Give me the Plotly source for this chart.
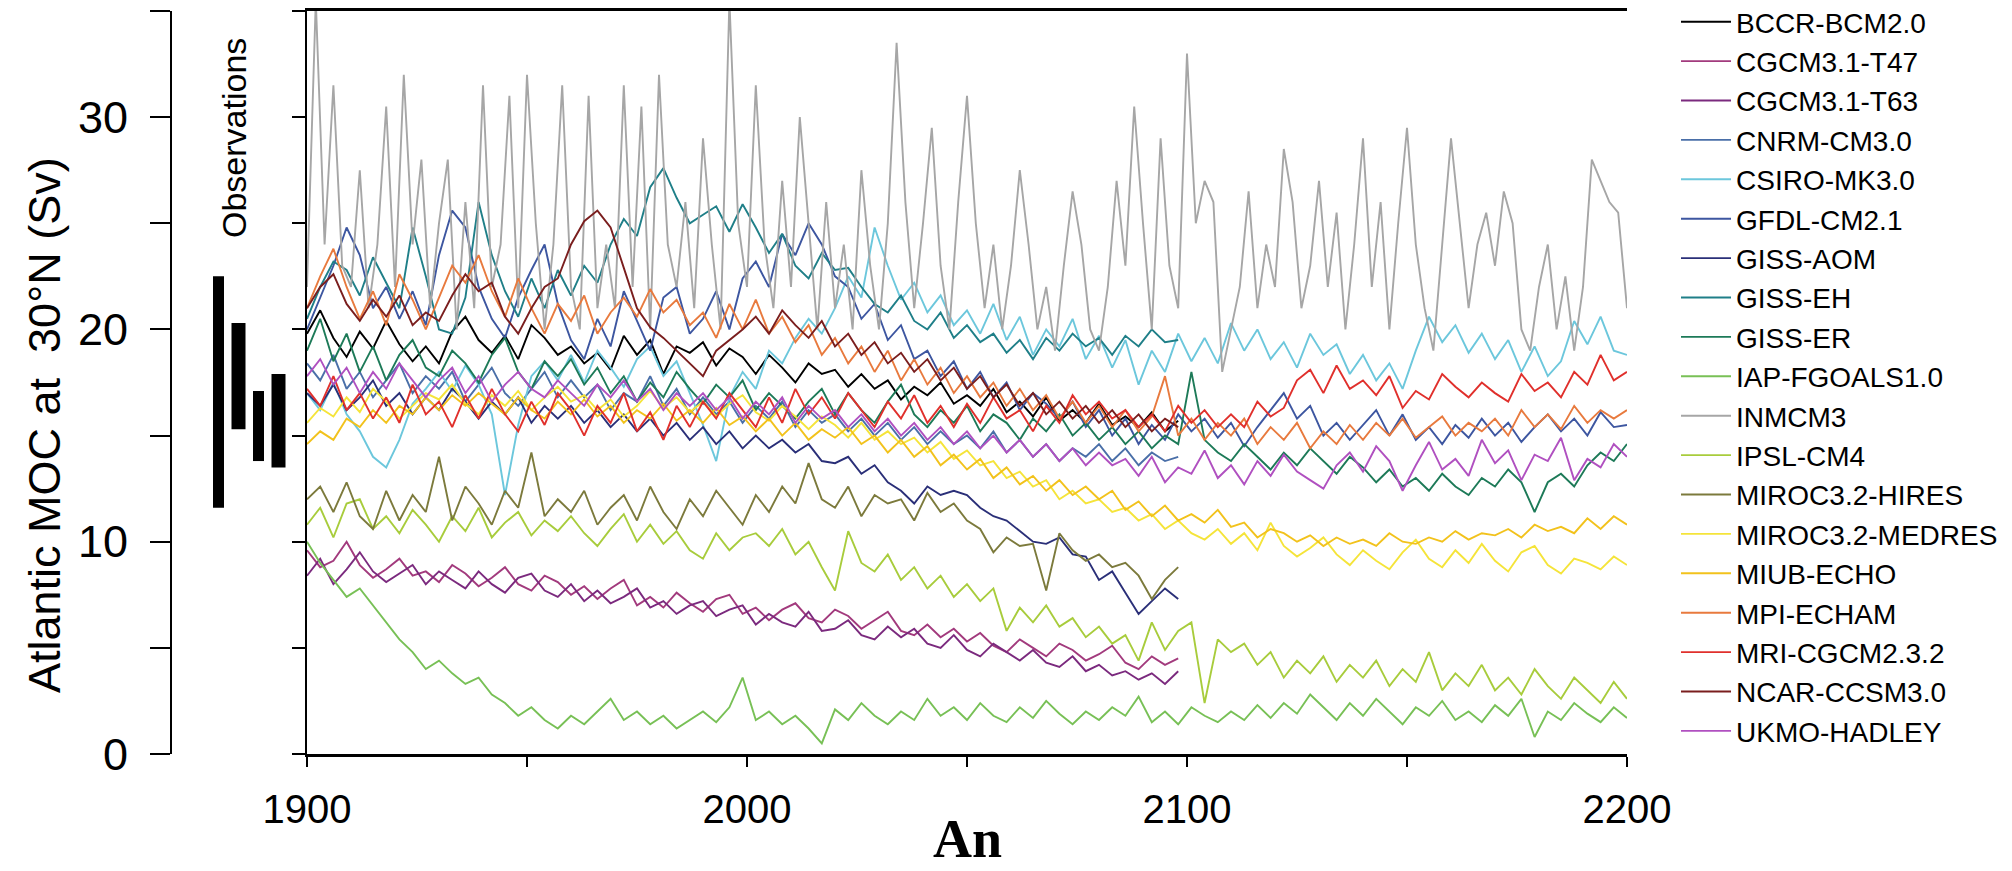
import plotly.graph_objects as go

# ---------------- data ----------------
MODELS = ["BCCR-BCM2.0", "CGCM3.1-T47", "CGCM3.1-T63", "CNRM-CM3.0", "CSIRO-MK3.0",
          "GFDL-CM2.1", "GISS-AOM", "GISS-EH", "GISS-ER", "IAP-FGOALS1.0", "INMCM3",
          "IPSL-CM4", "MIROC3.2-HIRES", "MIROC3.2-MEDRES", "MIUB-ECHO", "MPI-ECHAM",
          "MRI-CGCM2.3.2", "NCAR-CCSM3.0", "UKMO-HADLEY"]

COLORS = ["#000000", "#a23a7d", "#7b2a7e", "#4a6fa8", "#6cc7dc", "#3d56a0", "#2a2f78",
          "#1f7f88", "#1d7a58", "#78c056", "#a6a6a6", "#a8cc3c", "#7c7a3c", "#f5e43a",
          "#f2c21c", "#e87a3e", "#e0302c", "#7a1e1e", "#b050c0"]

YEARS_2200 = list(range(1900, 2201, 3))   # 101 years
YEARS_2100 = list(range(1900, 2099, 3))   # 67 years
YEARS_INM = list(range(1900, 2201, 2))    # 151 years

BCCR = [19.8, 20.9, 19.6, 18.7, 19.9, 19.1, 20.4, 19.3, 18.5, 19.2,
        18.4, 19.9, 20.6, 19.5, 18.9, 19.7, 18.6, 20.2, 19.6, 18.8,
        19.2, 18.4, 18.9, 18.1, 19.7, 18.8, 19.5, 17.9, 19.2, 18.9,
        19.4, 18.3, 19.1, 18.7, 17.9, 18.8, 18.2, 17.5, 18.4, 17.9,
        18.1, 17.3, 17.9, 17.2, 17.6, 16.7, 17.3, 16.9, 17.5, 16.5,
        16.9, 16.4, 17.2, 16.1, 16.6, 15.9, 16.8, 15.7, 16.2, 15.6,
        16.5, 15.5, 15.9, 15.4, 16.1, 15.2, 15.7]
CGCM_T47 = [9.6, 8.8, 9.1, 10.0, 8.9, 8.3, 8.7, 9.2, 8.4, 8.6,
            8.1, 8.9, 8.5, 7.9, 8.3, 8.8, 8.0, 7.7, 8.4, 8.1,
            7.5, 7.9, 7.3, 7.8, 8.2, 7.0, 7.4, 6.9, 7.6, 7.1,
            6.7, 7.3, 7.5, 6.6, 6.9, 6.3, 6.8, 7.1, 6.4, 6.2,
            6.8, 6.5, 5.9, 6.3, 6.7, 5.8, 5.6, 6.1, 5.5, 5.9,
            5.3, 5.7, 5.1, 4.8, 5.4, 5.0, 4.6, 5.2, 4.9, 4.4,
            4.7, 5.1, 4.3, 4.0, 4.6, 4.2, 4.5]
CGCM_T63 = [8.4, 9.2, 8.0, 8.7, 9.5, 8.6, 8.1, 8.5, 8.9, 8.0,
            8.6, 8.2, 7.8, 8.6, 8.0, 7.6, 8.3, 8.5, 7.7, 7.4,
            8.0, 7.2, 7.7, 7.1, 7.4, 7.8, 6.9, 7.2, 6.6, 7.0,
            7.2, 6.5, 6.8, 7.0, 6.1, 6.6, 6.2, 6.0, 6.7, 5.8,
            5.9, 6.3, 5.6, 5.4, 6.0, 5.5, 5.9, 5.2, 5.0, 5.6,
            4.9, 4.6, 5.2, 4.8, 4.4, 4.9, 4.3, 4.1, 4.6, 3.9,
            4.2, 3.7, 3.9, 3.5, 3.8, 3.3, 3.9]
CNRM = [18.4, 17.6, 18.8, 17.2, 18.0, 16.8, 17.6, 18.4, 17.0, 17.8,
        17.2, 18.0, 16.6, 17.4, 18.2, 17.0, 16.4, 17.2, 18.0, 16.8,
        17.6, 16.8, 17.4, 16.2, 17.0, 16.6, 17.8, 16.4, 17.2, 16.0,
        16.8, 16.0, 16.6, 15.6, 16.4, 15.8, 16.6, 15.4, 16.2, 15.6,
        16.0, 15.2, 15.8, 15.0, 15.6, 14.8, 15.4, 14.6, 15.2, 14.6,
        15.0, 14.4, 15.2, 14.2, 14.8, 14.0, 14.6, 13.8, 14.4, 14.0,
        14.6, 13.8, 14.4, 13.6, 14.2, 13.8, 14.0]
CSIRO = [17.0, 16.2, 17.5, 16.0, 15.2, 14.0, 13.5, 14.8, 16.5, 17.2,
         18.0, 17.1, 18.3, 17.4, 16.0, 12.2, 15.5, 17.8, 18.5, 17.6,
         18.8, 17.5, 19.0, 18.2, 17.3, 18.6, 19.2, 17.8, 18.5, 17.0,
         15.5, 13.8, 16.8, 18.0, 17.2, 19.0, 18.4, 19.6, 20.5, 19.8,
         21.0, 22.5, 21.5, 24.8, 23.0, 21.4, 22.2, 20.8, 21.6, 20.2,
         20.9, 19.8, 21.2, 19.5, 20.6, 18.8, 20.0, 19.2, 20.5, 18.6,
         19.7, 18.2, 19.5, 17.4, 19.0, 18.0, 19.8, 18.5, 19.6, 18.4,
         20.3, 19.0, 20.0, 18.6, 19.4, 18.2, 19.8, 18.8, 19.3, 17.9,
         18.8, 17.6, 18.4, 17.2, 19.0, 20.6, 19.4, 20.2, 18.9, 19.8,
         18.6, 19.5, 18.0, 19.2, 17.8, 18.5, 20.4, 19.3, 20.6, 19.0,
         18.8]
GFDL = [20.0, 21.5, 23.0, 24.8, 23.5, 21.0, 22.0, 20.5, 21.8, 20.2,
        23.5, 25.6, 24.8, 22.0, 20.5, 19.6, 21.5, 22.8, 24.0, 21.2,
        19.5, 18.6, 20.5, 19.2, 21.8, 20.4, 19.0, 21.5, 22.0, 19.8,
        20.5, 21.8, 20.0, 22.4, 23.2, 22.0, 24.5, 23.5, 25.0, 24.0,
        22.5, 22.0, 20.5, 21.2, 19.5, 20.2, 18.6, 19.0, 17.8, 18.5,
        17.2, 18.0, 16.8, 17.5, 16.2, 17.0, 16.5, 15.8, 16.6, 15.4,
        16.2, 15.0, 15.8, 14.6, 15.5, 14.8, 16.0, 15.2, 15.8, 14.9,
        15.6, 14.5, 15.4, 16.2, 17.0, 15.8, 16.4, 15.0, 15.6, 14.8,
        15.5, 16.2, 15.0, 16.0, 14.8, 15.4, 14.6, 15.5, 14.9, 15.8,
        15.0, 15.6, 14.7, 15.4, 16.0, 15.2, 15.8, 15.0, 16.1, 15.4,
        15.5]
GISS_AOM = [17.0, 16.4, 17.4, 16.2, 16.8, 17.6, 16.4, 17.0, 16.0, 16.8,
            16.2, 17.2, 16.6, 15.8, 16.6, 16.0, 16.8, 15.6, 16.4, 15.8,
            16.4, 15.6, 16.2, 15.4, 16.0, 15.2, 15.8, 15.0, 15.6, 14.8,
            15.4, 14.6, 15.2, 14.4, 15.0, 14.4, 14.8, 14.2, 14.6, 13.8,
            13.7, 14.0, 13.2, 13.6, 12.8, 12.4, 11.8, 12.6, 12.2, 12.4,
            12.2, 11.6, 11.2, 11.0, 10.5, 10.0, 9.9, 10.2, 9.4, 9.3,
            8.2, 8.6, 7.6, 6.6, 7.2, 7.8, 7.3]
GISS_EH = [20.5, 22.0, 23.2, 22.8, 21.6, 23.4, 22.2, 21.0, 24.8, 22.5,
           20.0, 19.8, 21.5, 26.0, 23.5, 21.8, 20.6, 22.4, 21.0, 22.8,
           21.6, 23.0, 22.2, 24.0, 25.2, 24.4, 26.7, 27.6, 26.2, 25.0,
           25.4, 25.8, 24.6, 25.9, 24.8, 23.6, 24.5, 23.0, 22.4, 23.6,
           22.8, 22.9, 22.0, 21.2, 20.8, 21.6, 20.4, 20.0, 20.8, 19.6,
           20.2, 19.4, 19.8, 18.9, 19.5, 18.6, 19.6, 19.0, 19.8, 19.2,
           19.6, 18.8, 19.7, 19.2, 20.0, 19.4, 19.5]
GISS_ER = [19.0, 20.5, 18.5, 19.8, 18.0, 19.2, 17.6, 18.8, 19.5, 18.2,
           17.8, 19.0, 18.4, 17.5, 18.8, 19.6, 18.0, 17.2, 18.5, 17.8,
           18.6, 17.4, 18.2, 17.0, 17.8, 16.6, 17.5, 16.8, 18.0, 17.2,
           16.5, 17.4, 16.8, 17.6, 16.2, 17.0, 16.4, 15.8, 16.6, 17.2,
           16.0, 17.0, 16.2, 15.6, 16.6, 17.4, 16.0, 15.4, 16.2, 15.6,
           16.4, 15.2, 16.0, 15.6, 14.8, 15.8, 15.2, 16.0, 15.0, 15.6,
           14.8, 15.4, 14.6, 15.2, 14.4, 15.0, 14.6, 18.0, 14.8, 14.2,
           13.8, 14.6, 14.0, 13.4, 14.2, 13.6, 14.4, 13.8, 13.2, 14.0,
           13.5, 12.8, 13.4, 12.6, 13.0, 12.4, 13.2, 12.6, 12.2, 13.0,
           12.6, 13.4, 12.8, 11.4, 12.8, 13.2, 12.6, 13.6, 14.2, 13.8,
           14.6]
IAP = [10.0, 9.0, 8.2, 7.4, 7.8, 7.0, 6.2, 5.4, 4.8, 4.0,
       4.4, 3.8, 3.3, 3.6, 2.8, 2.4, 1.8, 2.2, 1.6, 1.2,
       1.8, 1.4, 2.0, 2.6, 1.6, 2.0, 1.4, 1.8, 1.2, 1.6,
       2.0, 1.5, 2.2, 3.6, 1.6, 2.0, 1.4, 1.8, 1.2, 0.5,
       2.1, 1.6, 2.4, 1.8, 1.4, 2.0, 1.6, 2.6, 1.8, 2.2,
       1.6, 2.4, 1.8, 1.5, 2.2, 1.7, 2.5, 1.9, 1.4, 2.0,
       1.6, 2.2, 1.8, 2.7, 1.5, 2.0, 1.4, 2.2, 1.8, 1.5,
       2.0, 1.6, 2.3, 1.7, 2.4, 1.9, 2.8, 2.2, 1.6, 2.4,
       1.8, 2.6, 2.0, 1.4, 2.2, 1.8, 2.5, 1.6, 2.0, 1.5,
       2.3, 1.8, 2.6, 0.8, 2.0, 1.6, 2.4, 1.9, 1.5, 2.2,
       1.7]
INMCM3 = [22, 35.5, 24, 31.5, 23, 22, 27.5, 21, 24, 30.5,
          22, 32, 24, 28, 21, 25, 28, 20, 26, 21,
          31.5, 22, 24, 31, 21, 32, 25, 20, 24, 31.5,
          22, 20, 31, 21, 24, 21, 31.5, 22, 30.5, 20,
          32, 24, 22, 26, 21, 29, 24, 20, 35.5, 25,
          22, 31.5, 24, 21, 27, 22, 30, 25, 20, 26,
          21, 24, 20, 27.5, 23, 20, 25, 33.5, 26, 21,
          25, 29.5, 23, 20, 26, 31, 25, 21, 24, 20,
          23, 27.5, 24, 20, 22, 19, 23, 26.5, 24, 20,
          19, 22, 27, 23, 30.5, 25, 20, 29, 23, 21,
          33, 25, 27, 26, 18, 20, 22, 26.5, 21, 24,
          22, 28.5, 26, 21, 23, 27, 22, 25.5, 20, 24,
          29, 22, 26, 20, 25, 29.5, 24, 21, 19, 24,
          29, 25, 21, 24, 25.5, 23, 26.5, 25, 20, 19,
          22, 24, 20, 22.5, 19, 22, 28, 27, 26, 25.5,
          21]
IPSL = [10.8, 11.6, 10.2, 11.8, 12.0, 10.6, 11.2, 10.4, 11.5, 10.8,
        10.0, 11.2, 10.5, 11.6, 10.2, 10.9, 11.4, 10.3, 11.0, 10.5,
        11.2, 10.4, 9.8, 10.6, 11.3, 10.0, 10.8, 9.9, 10.5, 9.6,
        9.2, 10.4, 9.6, 10.2, 10.4, 9.8, 10.6, 9.4, 10.0, 8.8,
        7.7, 10.5, 9.0, 8.6, 9.4, 8.2, 8.8, 7.8, 8.4, 7.4,
        8.0, 7.2, 7.8, 5.8, 6.9, 6.2, 7.0, 6.0, 6.4, 5.5,
        6.0, 5.2, 5.6, 4.4, 6.2, 4.9, 5.8, 6.2, 2.4, 5.4,
        4.8, 5.2, 4.2, 4.8, 3.6, 4.4, 3.8, 4.6, 3.4, 4.2,
        3.6, 4.4, 3.2, 4.0, 3.4, 4.8, 3.0, 3.8, 3.2, 4.2,
        3.0, 3.6, 2.8, 4.0, 3.2, 2.6, 3.6, 3.0, 2.4, 3.4,
        2.6]
MIROC_HIRES = [12.0, 12.6, 11.4, 12.8, 11.2, 10.6, 12.4, 11.0, 12.2, 11.4,
               14.0, 11.0, 12.6, 11.8, 10.8, 12.4, 11.6, 14.2, 11.2, 12.0,
               11.4, 12.4, 10.8, 11.6, 12.2, 11.0, 12.6, 11.4, 10.6, 12.0,
               11.2, 12.4, 11.6, 10.8, 12.2, 11.4, 12.6, 11.8, 13.7, 12.0,
               11.6, 12.6, 11.2, 12.2, 11.8, 12.0, 11.0, 12.3, 11.4, 11.8,
               11.0, 10.6, 9.5, 10.2, 9.8, 9.9, 7.7, 10.4, 9.6, 9.1,
               9.4, 8.8, 9.0, 8.4, 7.3, 8.2, 8.8]
MIROC_MEDRES = [15.6, 16.3, 15.9, 16.8, 16.1, 17.2, 16.6, 15.8, 16.4, 17.0,
                16.7, 17.4, 16.5, 16.0, 16.9, 16.4, 17.1, 16.2, 16.8, 17.3,
                16.6, 16.9, 16.2, 16.7, 15.9, 16.4, 17.1, 16.3, 16.8, 16.1,
                16.6, 15.9, 16.5, 16.9, 16.1, 15.7, 16.4, 15.9, 15.3, 15.9,
                15.5, 14.9, 15.6, 14.8, 15.2, 14.6, 14.9, 14.2, 14.7, 13.9,
                14.3, 13.6, 13.8, 13.0, 13.3, 12.6, 12.9, 12.0, 12.4, 11.8,
                12.0, 11.4, 11.6, 11.0, 11.3, 10.6, 11.0, 10.4, 10.1, 10.6,
                9.9, 10.4, 9.6, 10.9, 9.8, 9.3, 9.7, 10.2, 9.4, 8.9,
                9.6, 9.1, 8.7, 9.5, 10.1, 9.2, 8.8, 9.6, 9.0, 9.9,
                9.1, 8.6, 9.5, 9.8, 8.9, 8.5, 9.2, 9.0, 8.7, 9.3,
                8.9]
MIUB = [14.6, 15.2, 14.8, 15.8, 15.4, 16.2, 15.6, 16.4, 16.0, 16.8,
        16.2, 16.9, 16.4, 17.0, 16.5, 16.0, 16.8, 16.2, 15.8, 16.6,
        16.0, 16.7, 15.9, 16.4, 15.6, 16.2, 15.8, 16.5, 15.7, 16.2,
        15.6, 16.3, 15.5, 15.9, 15.2, 15.8, 15.0, 15.6, 14.8, 15.3,
        14.9, 15.4, 14.6, 15.0, 14.2, 14.8, 14.0, 14.5, 13.6, 14.1,
        13.4, 13.9, 13.0, 13.5, 12.7, 13.1, 12.4, 12.9, 12.2, 12.6,
        12.0, 12.4, 11.5, 11.9, 11.2, 11.7, 11.0, 11.3, 10.9, 11.5,
        10.7, 10.9, 10.2, 10.6, 10.4, 10.0, 10.3, 9.8, 10.2, 9.9,
        10.1, 9.8, 10.4, 10.0, 9.9, 10.2, 10.0, 10.5, 10.1, 10.4,
        10.3, 10.6, 10.2, 10.8, 10.5, 10.7, 10.4, 11.1, 10.6, 11.2,
        10.8]
MPI = [21.0, 22.5, 23.8, 22.0, 20.5, 21.8, 20.2, 22.6, 21.4, 20.0,
       21.5, 23.0, 22.2, 23.5, 21.8, 20.6, 22.4, 21.0, 19.8, 21.2,
       20.4, 21.6, 19.8, 20.8, 21.5, 20.6, 21.9, 20.8, 21.4, 20.2,
       20.8, 19.6, 21.2, 20.0, 21.4, 19.8, 20.6, 19.4, 20.2, 18.8,
       19.6, 18.4, 19.2, 18.0, 19.0, 17.6, 18.6, 17.4, 18.2, 17.0,
       17.8, 16.8, 17.5, 16.4, 17.2, 16.2, 16.9, 15.8, 16.6, 15.6,
       16.4, 15.4, 16.2, 15.2, 15.9, 17.8, 15.0, 15.8, 14.8, 15.6,
       15.0, 15.8, 14.6, 15.4, 14.8, 15.6, 14.4, 15.2, 14.6, 15.5,
       14.8, 15.6, 15.0, 15.8, 14.9, 15.4, 15.9, 15.0, 15.6, 15.2,
       15.8, 15.0, 16.2, 15.4, 16.0, 15.3, 16.4, 15.6, 16.2, 15.8,
       16.2]
MRI = [17.2, 16.4, 17.8, 16.2, 17.0, 15.8, 16.8, 15.6, 17.4, 16.0,
       16.6, 15.4, 16.9, 15.8, 17.2, 16.0, 15.2, 16.6, 15.5, 17.0,
       16.2, 15.0, 16.4, 15.6, 17.0, 15.2, 16.1, 14.8, 16.4, 15.4,
       16.6, 15.8, 17.0, 16.2, 15.4, 16.8, 15.6, 17.2, 16.0, 16.8,
       15.8, 17.0, 16.2, 15.4, 16.6, 15.8, 16.9, 15.6, 16.4, 15.4,
       16.5, 15.6, 16.8, 15.8, 16.2, 15.2, 16.4, 15.6, 16.9, 16.0,
       16.6, 15.8, 16.2, 15.4, 16.0, 15.2, 16.4, 15.6, 16.2, 15.4,
       16.0, 15.4, 16.6, 15.9, 16.3, 17.6, 18.1, 17.0, 18.3, 17.2,
       17.6, 16.9, 17.8, 16.3, 17.1, 16.7, 17.9, 17.3, 16.8, 17.5,
       17.0, 16.6, 17.9, 17.1, 17.5, 16.8, 18.0, 17.4, 18.8, 17.6,
       18.0]
NCAR = [21.0, 22.0, 22.6, 21.2, 20.4, 21.4, 20.6, 21.6, 20.2, 20.8,
        20.4, 21.6, 22.6, 21.8, 22.2, 20.6, 19.8, 21.0, 22.0, 22.4,
        24.0, 25.1, 25.6, 24.8, 22.9, 21.0, 20.1, 19.6, 19.0, 18.4,
        17.8, 19.0, 19.5, 20.0, 20.6, 19.8, 20.9, 20.2, 19.6, 20.4,
        19.2, 19.8, 18.8, 19.4, 18.4, 18.9, 18.0, 18.6, 17.6, 18.2,
        17.2, 17.8, 16.8, 17.4, 16.4, 17.0, 16.0, 16.6, 15.8, 16.4,
        15.6, 16.2, 15.4, 16.0, 15.2, 15.8, 15.4]
UKMO = [17.8, 18.6, 17.4, 18.2, 17.0, 18.0, 17.2, 18.4, 17.6, 16.8,
        17.6, 18.2, 17.0, 17.8, 16.6, 17.4, 18.0, 17.2, 16.8, 17.6,
        17.0, 16.4, 17.4, 16.8, 17.6, 16.6, 17.2, 16.2, 17.0, 16.4,
        17.0, 16.2, 16.8, 15.8, 16.6, 16.0, 16.8, 15.6, 16.4, 15.8,
        16.2, 15.4, 16.0, 15.2, 15.8, 15.0, 15.6, 14.8, 15.4, 14.6,
        15.2, 14.4, 15.0, 14.2, 14.8, 14.0, 14.6, 13.8, 14.4, 13.6,
        14.2, 13.6, 13.9, 13.1, 14.0, 12.8, 13.5, 13.2, 14.3, 13.0,
        13.6, 12.7, 13.8, 13.1, 14.1, 13.3, 12.9, 12.5, 13.6, 14.2,
        13.3, 14.5, 13.8, 12.4, 13.6, 14.7, 13.4, 13.9, 13.1, 14.8,
        13.7, 14.3, 12.9, 14.1, 13.8, 14.9, 12.9, 13.9, 13.5, 14.6,
        14.0]

SERIES = [BCCR, CGCM_T47, CGCM_T63, CNRM, CSIRO, GFDL, GISS_AOM, GISS_EH, GISS_ER,
          IAP, INMCM3, IPSL, MIROC_HIRES, MIROC_MEDRES, MIUB, MPI, MRI, NCAR, UKMO]

# Observational estimates (Sv): low / high end of each bar
OBS_LOW = [11.6, 15.3, 13.8, 13.5]
OBS_HIGH = [22.5, 20.3, 17.1, 17.9]

Y_TICKS = [0, 5, 10, 15, 20, 25, 30, 35]
Y_TICKTEXT = ["0", "", "10", "", "20", "", "30", ""]
X_TICKS = [1900, 1950, 2000, 2050, 2100, 2150, 2200]
X_TICKTEXT = ["1900", "", "2000", "", "2100", "", "2200"]

# ---------------- figure ----------------
# the page body keeps an 8px margin, so the figure is sized to fit the window
OFF = 8
FW, FH = 2012 - OFF, 871 - OFF

def px_x(p):
    return (p - OFF) / FW

def px_y(p):
    return (FH - (p - OFF)) / FH

fig = go.Figure()

for name, color, vals in zip(MODELS, COLORS, SERIES):
    if len(vals) == len(YEARS_INM):
        years = YEARS_INM
    elif len(vals) == len(YEARS_2200):
        years = YEARS_2200
    else:
        years = YEARS_2100
    fig.add_trace(go.Scatter(
        x=years, y=vals, mode="lines", name=name,
        line=dict(color=color, width=1.9), xaxis="x", yaxis="y2",
    ))

fig.add_trace(go.Bar(
    x=[1, 2, 3, 4], y=[h - l for h, l in zip(OBS_HIGH, OBS_LOW)], base=OBS_LOW,
    width=[0.55, 0.7, 0.55, 0.7], marker=dict(color="black", line=dict(width=0)),
    xaxis="x2", yaxis="y", showlegend=False,
))

ydom = [px_y(754), px_y(11)]
font_main = "Liberation Sans, Arial, sans-serif"
font_narrow = "Liberation Sans Narrow, Arial Narrow, Liberation Sans, sans-serif"

fig.update_layout(
    template="none",
    width=FW, height=FH, autosize=False,
    margin=dict(l=0, r=0, t=0, b=0, autoexpand=False),
    paper_bgcolor="white", plot_bgcolor="white",
    showlegend=True,
    legend=dict(
        x=px_x(1676), y=px_y(-3), xanchor="left", yanchor="top",
        font=dict(family=font_main, size=28, color="black"),
        tracegroupgap=0, itemwidth=50, bgcolor="rgba(0,0,0,0)",
        maxheight=2000,
    ),
    xaxis=dict(
        domain=[px_x(307), px_x(1627)], range=[1900, 2200], anchor="y2",
        tickmode="array", tickvals=X_TICKS, ticktext=X_TICKTEXT,
        ticks="outside", ticklen=10, tickwidth=2, tickcolor="black",
        showline=True, linewidth=3, linecolor="black", mirror=True,
        showgrid=False, zeroline=False, automargin=False,
        tickfont=dict(family=font_narrow, size=40, color="black"),
        ticklabelstandoff=8,
    ),
    xaxis2=dict(
        domain=[px_x(172), px_x(305)], range=[-1.325, 5.325], anchor="y",
        visible=False, showgrid=False, zeroline=False, automargin=False,
    ),
    yaxis=dict(
        domain=ydom, range=[0, 35], anchor="x2", side="left",
        tickmode="array", tickvals=Y_TICKS, ticktext=Y_TICKTEXT,
        ticks="outside", ticklen=20, tickwidth=2, tickcolor="black",
        showline=True, linewidth=2, linecolor="black",
        showgrid=False, zeroline=False, automargin=False,
        tickfont=dict(family=font_main, size=45, color="black"),
        ticklabelstandoff=13,
    ),
    yaxis2=dict(
        domain=ydom, range=[0, 35], anchor="x", side="left",
        tickmode="array", tickvals=Y_TICKS, showticklabels=False,
        ticks="outside", ticklen=13, tickwidth=2, tickcolor="black",
        showline=True, linewidth=2, linecolor="black",
        showgrid=False, zeroline=False, automargin=False,
    ),
    yaxis3=dict(
        range=[0, 35], anchor="x", side="right", overlaying="y2",
        tickmode="array", tickvals=Y_TICKS, showticklabels=False,
        ticks="inside", ticklen=20, tickwidth=2, tickcolor="black",
        showline=True, linewidth=2, linecolor="black",
        showgrid=False, zeroline=False, automargin=False,
    ),
    annotations=[
        dict(text="Atlantic MOC at \u00a030°N (Sv)", x=px_x(44), y=px_y(425),
             xref="paper", yref="paper", textangle=-90, showarrow=False,
             xanchor="center", yanchor="middle",
             font=dict(family=font_main, size=45, color="black")),
        dict(text="Observations", x=px_x(234), y=px_y(138),
             xref="paper", yref="paper", textangle=-90, showarrow=False,
             xanchor="center", yanchor="middle",
             font=dict(family=font_narrow, size=34, color="black")),
        dict(text="<b>An</b>", x=px_x(967), y=px_y(871),
             xref="paper", yref="paper", showarrow=False,
             xanchor="center", yanchor="bottom",
             font=dict(family="Liberation Serif, Times New Roman, serif", size=54, color="black")),
    ],
)

fig.write_html("out.html")
